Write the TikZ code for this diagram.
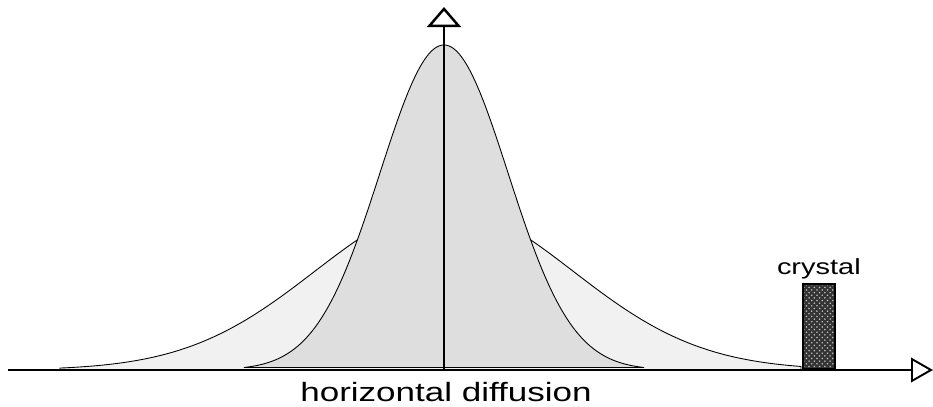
\documentclass[tikz,border=0pt]{standalone}
\usepackage{fontspec}
\setmainfont{Liberation Sans}
\usetikzlibrary{arrows.meta,positioning,patterns}
\definecolor{widegray}{gray}{0.945}
\definecolor{narrowgray}{gray}{0.87}

\begin{document}
\begin{tikzpicture}[
    x=0.02cm, y=0.02cm,
    axis/.style={line width=1.1pt},
    wide/.style={draw=black, line width=0.5pt, fill=widegray},
    narrow/.style={draw=black, line width=0.5pt, fill=narrowgray},
    crystalbox/.style={draw, line width=1pt, minimum width=0.64cm,
                       minimum height=1.7cm, inner sep=0pt,
                       preaction={fill=black!80},
                       pattern=crosshatch dots, pattern color=white!75!black},
    lbl/.style={inner sep=0pt},
]
    \useasboundingbox (-444,-36) rectangle (489,370);

    \coordinate (xstart) at (-436,0);
    \coordinate (xend) at (489,0);
    \coordinate (origin) at (0,0);
    \coordinate (ytop) at (0,363);

    % the two profiles
    \draw[wide] (-384,0) -- plot[domain=-384:357, samples=150, smooth]
        (\x,{163*exp(-(\x/100)^2/3.3282)}) -- (357,0) -- cycle;
    \draw[narrow] plot[domain=-200:200, samples=120, smooth]
        (\x,{325*exp(-(\x/100)^2/0.8192)}) -- cycle;

    % axes
    \draw[axis, -{Triangle[open, length=12.5pt, width=14pt]}] (xstart) -- (xend);
    \draw[axis, line width=1.4pt, -{Triangle[open, length=11.5pt, width=19.5pt]}] (origin) -- (ytop);

    \node[crystalbox, anchor=south west] (crystal) at (358,0) {};
    \node[lbl, above=0.08cm of crystal, font=\fontsize{12.5}{14}\selectfont]
        (crystallabel) {\scalebox{1.32}[1]{crystal}};
    \node[lbl, anchor=base, font=\fontsize{15.1}{18}\selectfont]
        (xlabel) at (2,-31) {\scalebox{1.32}[1]{horizontal diffusion}};
\end{tikzpicture}
\end{document}
